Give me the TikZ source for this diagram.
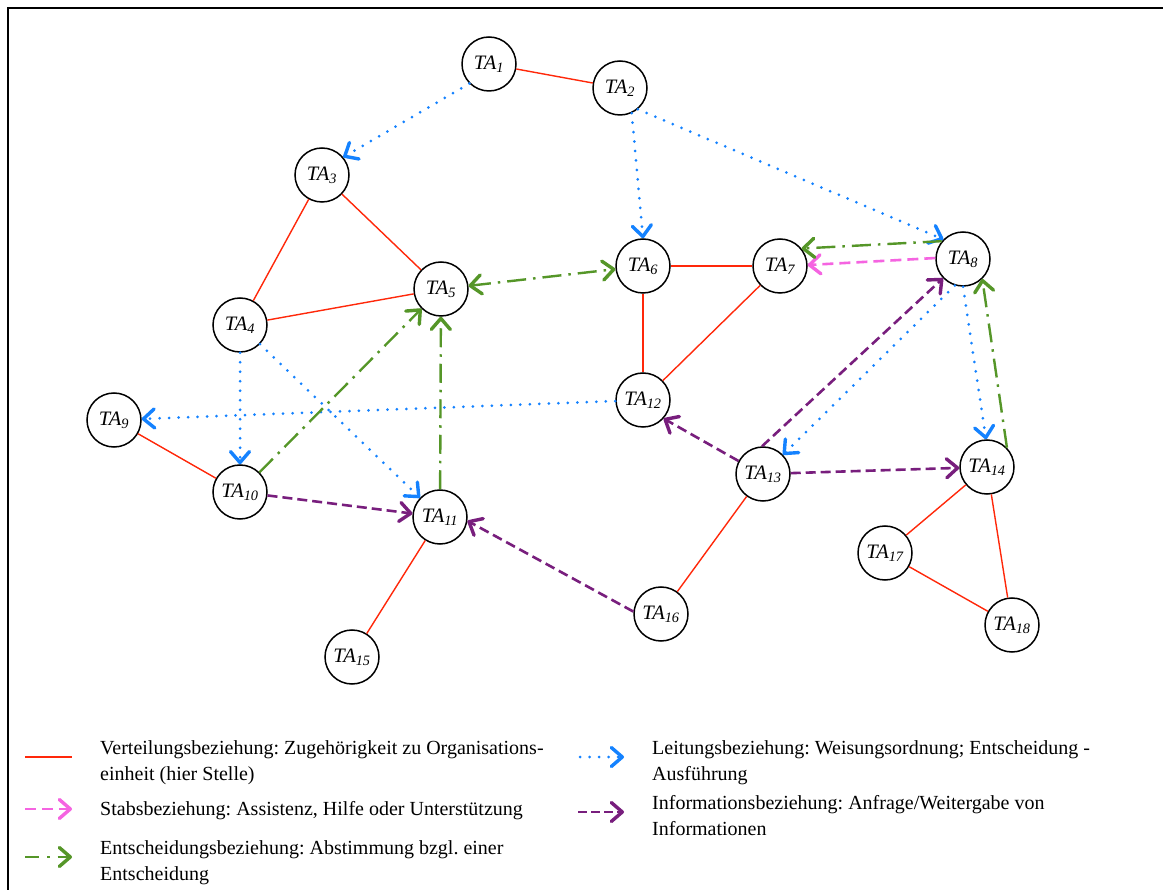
\documentclass[tikz,border=0pt]{standalone}
\usepackage{fontspec}
\setmainfont{Liberation Serif}
\usetikzlibrary{arrows.meta}

\definecolor{vred}{RGB}{255,40,10}
\definecolor{lblue}{RGB}{20,130,255}
\definecolor{spink}{RGB}{245,100,225}
\definecolor{egreen}{RGB}{85,150,40}
\definecolor{ipurple}{RGB}{120,30,125}

\tikzset{
  barb/.tip={Straight Barb[length=11pt,width=19pt,line width=3.4pt,round]},
  ta/.style={circle, draw=black, line width=1.5pt, fill=white, minimum size=54pt,
    inner sep=0pt, font=\fontsize{20.5}{24}\selectfont\itshape},
  tip/.style={-barb},
  verteil/.style={draw=vred, line width=1.4pt},
  leitung/.style={draw=lblue, line width=3pt, line cap=round,
    dash pattern=on 0pt off 9.5pt, tip},
  stab/.style={draw=spink, line width=2.6pt, dash pattern=on 11pt off 6pt, tip},
  entsch/.style={draw=egreen, line width=2.4pt,
    dash pattern=on 19pt off 7pt on 2.5pt off 7pt, tip},
  entschboth/.style={entsch, barb-barb},
  info/.style={draw=ipurple, line width=2.6pt, dash pattern=on 10pt off 5pt, tip},
  legtext/.style={anchor=north west, align=left, inner sep=0pt,
    font=\fontsize{20}{26.5}\selectfont\frenchspacing},
}

\newcommand{\TAlabel}[1]{TA\textsubscript{#1}}

\begin{document}
\begin{tikzpicture}[x=1pt, y=-1pt]
\useasboundingbox (0,0) rectangle (1163,890);
\fill[white] (0,0) rectangle (1163,890);

% outer frame (top and left edge)
\draw[line width=2pt] (7.5,892) -- (7.5,8.5) -- (1165,8.5);

% task nodes
\node[ta] (TA1)  at (489,64)  {\TAlabel{1}};
\node[ta] (TA2)  at (620,88)  {\TAlabel{2}};
\node[ta] (TA3)  at (322,175) {\TAlabel{3}};
\node[ta] (TA4)  at (240,325) {\TAlabel{4}};
\node[ta] (TA5)  at (441,289) {\TAlabel{5}};
\node[ta] (TA6)  at (643,266) {\TAlabel{6}};
\node[ta] (TA7)  at (780,266) {\TAlabel{7}};
\node[ta] (TA8)  at (963,259) {\TAlabel{8}};
\node[ta] (TA9)  at (114,420) {\TAlabel{9}};
\node[ta] (TA10) at (240,492) {\TAlabel{10}};
\node[ta] (TA11) at (440,517) {\TAlabel{11}};
\node[ta] (TA12) at (643,400) {\TAlabel{12}};
\node[ta] (TA13) at (763,474) {\TAlabel{13}};
\node[ta] (TA14) at (987,467) {\TAlabel{14}};
\node[ta] (TA15) at (352,657) {\TAlabel{15}};
\node[ta] (TA16) at (661,614) {\TAlabel{16}};
\node[ta] (TA17) at (885,553) {\TAlabel{17}};
\node[ta] (TA18) at (1012,625) {\TAlabel{18}};

% Verteilungsbeziehungen
\draw[verteil] (TA1) -- (TA2);
\draw[verteil] (TA3) -- (TA4);
\draw[verteil] (TA3) -- (TA5);
\draw[verteil] (TA4) -- (TA5);
\draw[verteil] (TA6) -- (TA7);
\draw[verteil] (TA6) -- (TA12);
\draw[verteil] (TA7) -- (TA12);
\draw[verteil] (TA9) -- (TA10);
\draw[verteil] (TA11) -- (TA15);
\draw[verteil] (TA13) -- (TA16);
\draw[verteil] (TA14) -- (TA17);
\draw[verteil] (TA14) -- (TA18);
\draw[verteil] (TA17) -- (TA18);

% Leitungsbeziehungen
\draw[leitung] (TA1.225) -- (TA3.40);
\draw[leitung] (TA2.-65) -- (TA6.90);
\draw[leitung] (TA2.-50) -- (TA8.135);
\draw[leitung] (TA4) -- (TA10);
\draw[leitung] (TA4) -- (TA11);
\draw[leitung] (TA12) -- (TA9);
\draw[leitung] (TA8.253) -- (TA13.44);
\draw[leitung] (TA8.270) -- (TA14.92);

% Stabsbeziehung
\draw[stab] (TA8.178) -- (TA7.2);

% Entscheidungsbeziehungen
\draw[entschboth] (TA5) -- (TA6);
\draw[entsch] (TA8.140) -- (TA7.39);
\draw[entsch] (TA10) -- (TA5);
\draw[entsch] (TA11) -- (TA5);
\draw[entsch] (TA14.44) -- (TA8.-46);

% Informationsbeziehungen
\draw[info] (TA10) -- (TA11);
\draw[info] (TA16.175) -- (TA11.-8);
\draw[info] (TA13.152) -- (TA12.-42);
\draw[info] (TA13.92) -- (TA8.224);
\draw[info] (TA13) -- (TA14);

% legend
\coordinate (l1a) at (25,757);  \coordinate (l1b) at (72,757);
\coordinate (l2a) at (25,809);  \coordinate (l2b) at (72,809);
\coordinate (l3a) at (25,857);  \coordinate (l3b) at (72,857);
\coordinate (l4a) at (580,757); \coordinate (l4b) at (624,757);
\coordinate (l5a) at (578,812); \coordinate (l5b) at (624,812);
\draw[verteil] (l1a) -- (l1b);
\draw[stab] (l2a) -- (l2b);
\draw[entsch, dash pattern=on 14pt off 8pt on 2.5pt off 8pt] (l3a) -- (l3b);
\draw[leitung] (l4a) -- (l4b);
\draw[info, dash pattern=on 9pt off 4pt] (l5a) -- (l5b);

\node[legtext] (t1) at (100,740) {Verteilungsbeziehung: Zugehörigkeit zu Organisations-\\einheit (hier Stelle)};
\node[legtext] (t2) at (100,801) {Stabsbeziehung: Assistenz, Hilfe oder Unterstützung};
\node[legtext] (t3) at (100,840) {Entscheidungsbeziehung: Abstimmung bzgl. einer\\Entscheidung};
\node[legtext] (t4) at (652,740) {Leitungsbeziehung: Weisungsordnung; Entscheidung -\\Ausführung};
\node[legtext] (t5) at (652,795) {Informationsbeziehung: Anfrage/Weitergabe von\\Informationen};
\end{tikzpicture}
\end{document}
